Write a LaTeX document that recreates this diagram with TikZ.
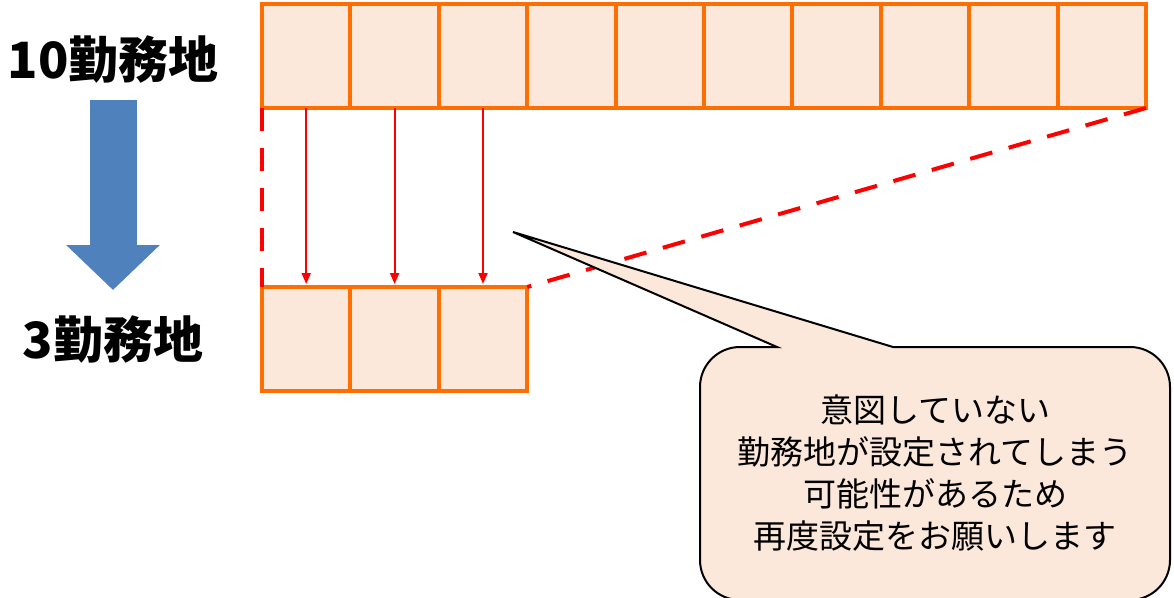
\documentclass[tikz,border=0pt]{standalone}
\usepackage{fontspec}
\setmainfont{Noto Sans CJK JP}
\usetikzlibrary{arrows.meta}
\definecolor{boxfill}{RGB}{252,232,218}
\definecolor{boxline}{RGB}{255,110,0}
\definecolor{bigblue}{RGB}{79,129,189}
\begin{document}
\begin{tikzpicture}[x=1pt,y=-1pt,
  cell/.style={draw=boxline,fill=boxfill,line width=4pt,minimum width=88.4pt,minimum height=104pt,inner sep=0pt,outer sep=0pt},
  countlabel/.style={font=\fontsize{50}{50}\selectfont\bfseries},
  maparrow/.style={red,line width=2pt,-{Triangle[width=9pt,length=11pt]},shorten >=3pt},
  guide/.style={red,line width=4pt,dash pattern=on 23pt off 17pt},
  bubble/.style={draw=black,fill=boxfill,line width=2pt,line join=miter}]

  \useasboundingbox (0,0) rectangle (1174,597);

  % labels and big arrow
  \node[countlabel] (ten) at (113,60) {10勤務地};
  \node[countlabel] (three) at (113,340) {3勤務地};
  \coordinate (downtop) at (113,100);
  \coordinate (downtip) at (113,290);
  \draw[bigblue,line width=47pt,-{Triangle[width=91pt,length=45pt]}] (downtop) -- (downtip);

  % ten boxes
  \foreach \i in {1,...,10}
    \node[cell] (t\i) at ({262+88.4*(\i-0.5)},56) {};
  % three boxes
  \foreach \i in {1,2,3}
    \node[cell] (b\i) at ({262+88.4*(\i-0.5)},339) {};

  % mapping arrows
  \foreach \i in {1,2,3}
    \draw[maparrow] (t\i.south) -- (b\i.north);

  % dashed guides
  \draw[guide] (t1.south west) -- (b1.north west);
  \draw[guide] (t10.south east) -- (b3.north east);

  % callout
  \coordinate (tip) at (513,232);
  \draw[bubble] (740,347) -- (777,347) -- (tip) -- (893,347) -- (1130,347)
    arc[start angle=270,end angle=360,radius=40] -- (1170,560)
    arc[start angle=0,end angle=90,radius=40] -- (740,600)
    arc[start angle=90,end angle=180,radius=40] -- (700,387)
    arc[start angle=180,end angle=270,radius=40] -- cycle;
  \node[align=center,font=\fontsize{33}{42}\selectfont] (note) at (935,473)
    {意図していない\\勤務地が設定されてしまう\\可能性があるため\\再度設定をお願いします};
\end{tikzpicture}
\end{document}
